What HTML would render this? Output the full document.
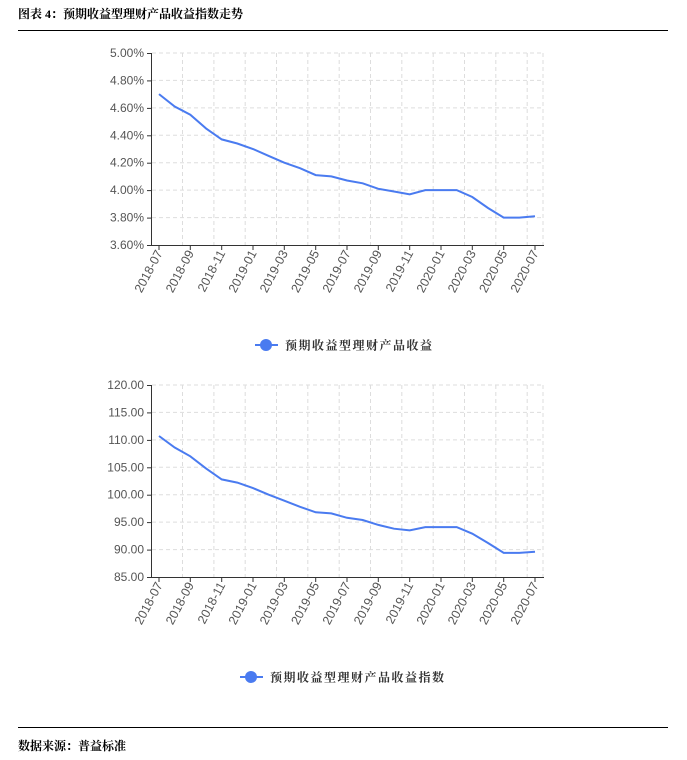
<!DOCTYPE html><html><head><meta charset="utf-8"><style>body{margin:0;background:#fff;width:687px;height:760px;overflow:hidden}svg{display:block}</style></head><body>
<svg width="687" height="760" xmlns="http://www.w3.org/2000/svg" font-family="Liberation Sans, Noto Sans CJK SC, sans-serif">
<text x="18" y="18" font-size="12" font-weight="bold" font-family="Liberation Serif, Noto Serif CJK SC, serif">图表 4：预期收益型理财产品收益指数走势</text>
<line x1="18" y1="30.5" x2="668" y2="30.5" stroke="#000" stroke-width="1"/>
<line x1="18" y1="727.5" x2="668" y2="727.5" stroke="#000" stroke-width="1"/>
<text x="18" y="750" font-size="12" font-weight="bold" font-family="Liberation Serif, Noto Serif CJK SC, serif">数据来源：普益标准</text>

<defs>
<g id="vg" stroke="#ddd" stroke-dasharray="4,3" stroke-width="1">
<line x1="182.5" x2="182.5" y1="0" y2="192"/><line x1="213.9" x2="213.9" y1="0" y2="192"/><line x1="245.2" x2="245.2" y1="0" y2="192"/><line x1="276.5" x2="276.5" y1="0" y2="192"/><line x1="307.8" x2="307.8" y1="0" y2="192"/><line x1="339.2" x2="339.2" y1="0" y2="192"/><line x1="370.5" x2="370.5" y1="0" y2="192"/><line x1="401.8" x2="401.8" y1="0" y2="192"/><line x1="433.2" x2="433.2" y1="0" y2="192"/><line x1="464.5" x2="464.5" y1="0" y2="192"/><line x1="495.8" x2="495.8" y1="0" y2="192"/><line x1="527.2" x2="527.2" y1="0" y2="192"/><line x1="543" x2="543" y1="0" y2="192"/>
<line x1="152" x2="543" y1="0" y2="0"/><line x1="152" x2="543" y1="27.4" y2="27.4"/><line x1="152" x2="543" y1="54.9" y2="54.9"/><line x1="152" x2="543" y1="82.3" y2="82.3"/><line x1="152" x2="543" y1="109.7" y2="109.7"/><line x1="152" x2="543" y1="137.1" y2="137.1"/><line x1="152" x2="543" y1="164.6" y2="164.6"/>
</g>
<g id="ax" stroke="#333" stroke-width="1">
<line x1="151.5" x2="151.5" y1="0" y2="192"/><line x1="151" x2="544" y1="192.5" y2="192.5"/>
<line x1="147" x2="151" y1="0.5" y2="0.5"/><line x1="147" x2="151" y1="27.9" y2="27.9"/><line x1="147" x2="151" y1="55.4" y2="55.4"/><line x1="147" x2="151" y1="82.8" y2="82.8"/><line x1="147" x2="151" y1="110.2" y2="110.2"/><line x1="147" x2="151" y1="137.6" y2="137.6"/><line x1="147" x2="151" y1="165.1" y2="165.1"/><line x1="147" x2="151" y1="192.5" y2="192.5"/>
<line x1="159" x2="159" y1="192" y2="197"/><line x1="190.3" x2="190.3" y1="192" y2="197"/><line x1="221.7" x2="221.7" y1="192" y2="197"/><line x1="253" x2="253" y1="192" y2="197"/><line x1="284.3" x2="284.3" y1="192" y2="197"/><line x1="315.7" x2="315.7" y1="192" y2="197"/><line x1="347" x2="347" y1="192" y2="197"/><line x1="378.3" x2="378.3" y1="192" y2="197"/><line x1="409.7" x2="409.7" y1="192" y2="197"/><line x1="441" x2="441" y1="192" y2="197"/><line x1="472.3" x2="472.3" y1="192" y2="197"/><line x1="503.7" x2="503.7" y1="192" y2="197"/><line x1="535" x2="535" y1="192" y2="197"/>
</g>
<g id="xl" font-size="12.5" fill="#555" text-anchor="end">
<text transform="translate(163,200) rotate(-62)">2018-07</text><text transform="translate(194.3,200) rotate(-62)">2018-09</text><text transform="translate(225.7,200) rotate(-62)">2018-11</text><text transform="translate(257,200) rotate(-62)">2019-01</text><text transform="translate(288.3,200) rotate(-62)">2019-03</text><text transform="translate(319.7,200) rotate(-62)">2019-05</text><text transform="translate(351,200) rotate(-62)">2019-07</text><text transform="translate(382.3,200) rotate(-62)">2019-09</text><text transform="translate(413.7,200) rotate(-62)">2019-11</text><text transform="translate(445,200) rotate(-62)">2020-01</text><text transform="translate(476.3,200) rotate(-62)">2020-03</text><text transform="translate(507.7,200) rotate(-62)">2020-05</text><text transform="translate(539,200) rotate(-62)">2020-07</text>
</g>
</defs>

<g transform="translate(0,53)"><use href="#vg"/><use href="#ax"/><use href="#xl"/></g>
<g font-size="12" fill="#555" text-anchor="end">
<text x="144" y="57">5.00%</text><text x="144" y="84.4">4.80%</text><text x="144" y="111.9">4.60%</text><text x="144" y="139.3">4.40%</text><text x="144" y="166.7">4.20%</text><text x="144" y="194.1">4.00%</text><text x="144" y="221.6">3.80%</text><text x="144" y="249">3.60%</text>
</g>
<polyline fill="none" stroke="#4a7bf0" stroke-width="2" points="159,94.1 174.7,106.5 190.3,114.7 206,128.4 221.7,139.4 237.3,143.5 253,149 268.7,155.9 284.3,162.7 300,168.2 315.7,175.1 331.3,176.4 347,180.5 362.7,183.3 378.3,188.8 394,191.5 409.7,194.3 425.3,190.1 441,190.1 456.7,190.1 472.3,197 488,208 503.7,217.6 519.3,217.6 535,216.2"/>
<line x1="255" x2="278" y1="345" y2="345" stroke="#4a7bf0" stroke-width="2"/><circle cx="266" cy="345" r="6" fill="#4a7bf0"/>
<text x="285" y="349.5" font-size="12" fill="#333" font-weight="bold" letter-spacing="1.5" font-family="Liberation Serif, Noto Serif CJK SC, serif">预期收益型理财产品收益</text>

<g transform="translate(0,385)"><use href="#vg"/><use href="#ax"/><use href="#xl"/></g>
<g font-size="12" fill="#555" text-anchor="end">
<text x="144" y="389">120.00</text><text x="144" y="416.4">115.00</text><text x="144" y="443.9">110.00</text><text x="144" y="471.3">105.00</text><text x="144" y="498.7">100.00</text><text x="144" y="526.1">95.00</text><text x="144" y="553.6">90.00</text><text x="144" y="581">85.00</text>
</g>
<polyline fill="none" stroke="#4a7bf0" stroke-width="2" points="159,436 174.7,447.5 190.3,456.3 206,468.4 221.7,479.4 237.3,482.6 253,488.1 268.7,494.7 284.3,500.7 300,506.8 315.7,512.3 331.3,513.4 347,517.8 362.7,520 378.3,524.9 394,528.7 409.7,530.4 425.3,527.1 441,527.1 456.7,527.1 472.3,533.7 488,543 503.7,552.9 519.3,552.9 535,551.8"/>
<line x1="240" x2="263" y1="677" y2="677" stroke="#4a7bf0" stroke-width="2"/><circle cx="251" cy="677" r="6" fill="#4a7bf0"/>
<text x="270" y="681.5" font-size="12" fill="#333" font-weight="bold" letter-spacing="1.5" font-family="Liberation Serif, Noto Serif CJK SC, serif">预期收益型理财产品收益指数</text>
</svg>
</body></html>
